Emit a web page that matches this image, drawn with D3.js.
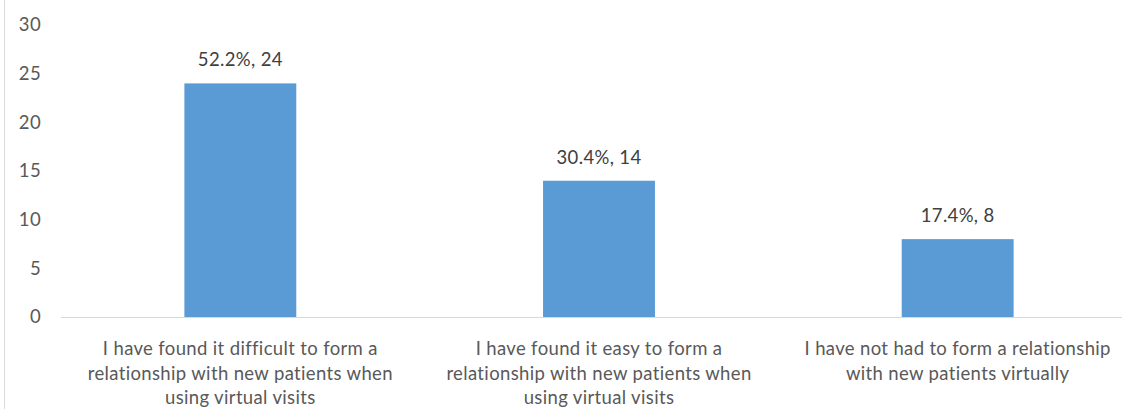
<!DOCTYPE html>
<html>
<head>
<meta charset="utf-8">
<script src="https://cdn.jsdelivr.net/npm/d3@7"></script>
<style>
  html, body { margin: 0; padding: 0; background: #fff; }
  svg { display: block; font-family: Lato, "Open Sans", sans-serif; }
</style>
</head>
<body>
<svg id="chart" width="1122" height="409"></svg>
<script>
// Survey responses on forming relationships with new patients virtually
const categories = [
  ["I have found it difficult to form a", "relationship with new patients when", "using virtual visits"],
  ["I have found it easy to form a", "relationship with new patients when", "using virtual visits"],
  ["I have not had to form a relationship", "with new patients virtually"]
];
const counts = [24, 14, 8];
const percents = ["52.2%", "30.4%", "17.4%"];
const yTicks = [0, 5, 10, 15, 20, 25, 30];

const svg = d3.select("#chart");
const plotLeft = 61, plotRight = 1137, plotTop = 25, plotBottom = 317;
const fontSize = 18.5, spacing = "0.35px";

const x = d3.scaleBand()
  .domain(d3.range(categories.length))
  .range([plotLeft, plotRight])
  .paddingInner(0.688)
  .paddingOuter(0.344);

const y = d3.scaleLinear().domain([0, 30]).range([plotBottom, plotTop]);

// outer frame edge
svg.append("line")
  .attr("x1", 4.5).attr("x2", 4.5).attr("y1", 0).attr("y2", 409)
  .attr("stroke", "#d9d9d9").attr("stroke-width", 1);

// y axis labels
const yAxis = d3.axisLeft(y).tickValues(yTicks).tickSize(0).tickPadding(0);
svg.append("g")
  .attr("transform", "translate(41,0)")
  .call(yAxis)
  .call(g => g.select(".domain").remove())
  .call(g => g.selectAll("text")
    .attr("fill", "#595959")
    .attr("font-size", fontSize)
    .attr("letter-spacing", spacing)
    .attr("font-family", "Lato, 'Open Sans', sans-serif"));

// bars
svg.append("g").selectAll("rect")
  .data(counts)
  .join("rect")
  .attr("x", (d, i) => x(i))
  .attr("width", x.bandwidth())
  .attr("y", d => y(d))
  .attr("height", d => y(0) - y(d))
  .attr("fill", "#5b9bd5");

// baseline
svg.append("line")
  .attr("x1", plotLeft).attr("x2", 1122)
  .attr("y1", plotBottom + 0.5).attr("y2", plotBottom + 0.5)
  .attr("stroke", "#d9d9d9").attr("stroke-width", 1);

// value labels
svg.append("g").selectAll("text")
  .data(counts)
  .join("text")
  .attr("x", (d, i) => x(i) + x.bandwidth() / 2)
  .attr("y", d => y(d) - 17)
  .attr("text-anchor", "middle")
  .attr("font-size", fontSize)
  .attr("letter-spacing", spacing)
  .attr("fill", "#404040")
  .text((d, i) => `${percents[i]}, ${d}`);

// category labels
const catG = svg.append("g").selectAll("text")
  .data(categories)
  .join("text")
  .attr("text-anchor", "middle")
  .attr("font-size", fontSize)
  .attr("letter-spacing", spacing)
  .attr("fill", "#595959");
catG.each(function(lines, i) {
  const cx = x(i) + x.bandwidth() / 2;
  d3.select(this).selectAll("tspan")
    .data(lines)
    .join("tspan")
    .attr("x", cx)
    .attr("y", (d, j) => 355 + j * 24.5)
    .text(d => d);
});
</script>
</body>
</html>
